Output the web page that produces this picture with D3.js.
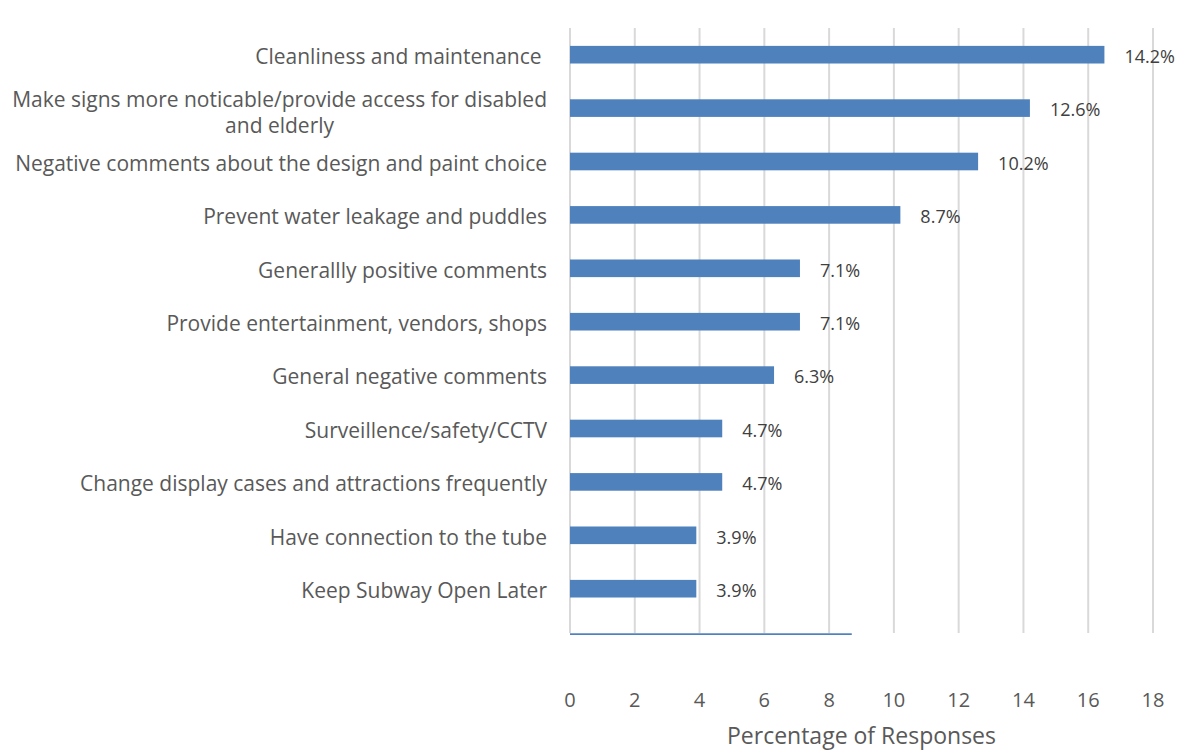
<!DOCTYPE html>
<html><head><meta charset="utf-8">
<script src="https://cdn.jsdelivr.net/npm/d3@7"></script>
<style>
body{margin:0;background:#fff;}
text{font-family:"Open Sans",sans-serif;}
</style></head>
<body><svg id="c" width="1192" height="753"></svg>
<script>
const categories = [
  "Cleanliness and maintenance ",
  "Make signs more noticable/provide access for disabled|and elderly",
  "Negative comments about the design and paint choice",
  "Prevent water leakage and puddles",
  "Generallly positive comments",
  "Provide entertainment, vendors, shops",
  "General negative comments",
  "Surveillence/safety/CCTV",
  "Change display cases and attractions frequently",
  "Have connection to the tube",
  "Keep Subway Open Later",
  ""
];
const barValues = [16.5, 14.2, 12.6, 10.2, 7.1, 7.1, 6.3, 4.7, 4.7, 3.9, 3.9, 8.7];
const dataLabels = ["14.2%", "12.6%", "10.2%", "8.7%", "7.1%", "7.1%", "6.3%", "4.7%", "4.7%", "3.9%", "3.9%", ""];
const xTicks = [0, 2, 4, 6, 8, 10, 12, 14, 16, 18];
const axisTitle = "Percentage of Responses";

const svg = d3.select("#c");
const mLeft = 570, mRight = 1153, mTop = 28, plotBottom = 634;
const x = d3.scaleLinear().domain([0, 18]).range([mLeft, mRight]);
const y = d3.scaleBand().domain(d3.range(categories.length)).range([mTop, mTop + 53.4 * categories.length]).paddingInner(0.67).paddingOuter(0.335);

svg.append("defs").append("clipPath").attr("id", "clip")
  .append("rect").attr("x", mLeft - 2).attr("y", mTop).attr("width", mRight - mLeft + 4).attr("height", plotBottom - mTop + 1);

// gridlines
svg.append("g").selectAll("line").data(xTicks).join("line")
  .attr("x1", d => x(d)).attr("x2", d => x(d))
  .attr("y1", mTop).attr("y2", plotBottom - 1)
  .attr("stroke", "#d9d9d9").attr("stroke-width", 2);

// bars
svg.append("g").attr("clip-path", "url(#clip)").selectAll("rect").data(barValues).join("rect")
  .attr("x", x(0)).attr("y", (d, i) => y(i))
  .attr("width", d => x(d) - x(0)).attr("height", y.bandwidth())
  .attr("fill", "#4f81bd");

// data labels
svg.append("g").selectAll("text").data(barValues.slice(0, 11)).join("text")
  .attr("x", d => x(d) + 20).attr("y", (d, i) => y(i) + y.bandwidth() / 2 + 2)
  .attr("dy", "0.35em").attr("font-size", 18).attr("fill", "#404040")
  .text((d, i) => dataLabels[i]);

// category labels
const cat = svg.append("g");
categories.forEach((c, i) => {
  if (!c) return;
  const lines = c.split("|");
  const cy = y(i) + y.bandwidth() / 2 + 2;
  if (lines.length === 1) {
    cat.append("text").attr("x", 547).attr("y", cy).attr("dy", "0.35em")
      .attr("text-anchor", "end").attr("font-size", 21).attr("fill", "#595959")
      .style("white-space", "pre").text(c);
  } else {
    const t = cat.append("text").attr("font-size", 21).attr("fill", "#595959");
    const t1 = t.append("tspan").attr("x", 547).attr("y", cy - 10).attr("dy", "0.35em").attr("text-anchor", "end").text(lines[0]);
    const w = t1.node().getComputedTextLength();
    t.append("tspan").attr("x", 547 - w / 2).attr("y", cy + 16).attr("dy", "0.35em").attr("text-anchor", "middle").text(lines[1]);
  }
});

// x tick labels
svg.append("g").selectAll("text").data(xTicks).join("text")
  .attr("x", d => x(d)).attr("y", 700).attr("dy", "0.35em")
  .attr("text-anchor", "middle").attr("font-size", 20).attr("fill", "#595959")
  .text(d => d);

svg.append("text").attr("x", (mLeft + mRight) / 2).attr("y", 736).attr("dy", "0.35em")
  .attr("text-anchor", "middle").attr("font-size", 23).attr("fill", "#595959").text(axisTitle);
</script></body></html>
